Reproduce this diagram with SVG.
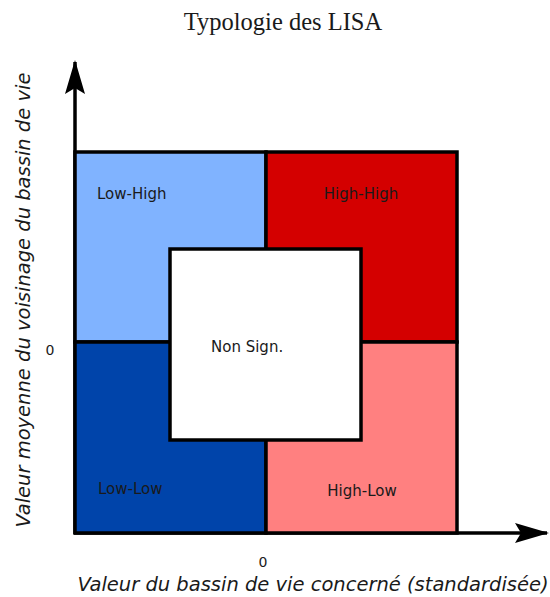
<svg xmlns="http://www.w3.org/2000/svg" width="550" height="597" viewBox="0 0 550 597">
<style>
.q{stroke:#000;stroke-width:3.5;stroke-linejoin:miter}
.lbl{font-family:"DejaVu Sans",sans-serif;font-size:15px;fill:#1a1a1a}
.ax{font-family:"DejaVu Sans",sans-serif;font-size:19.5px;font-style:italic;fill:#1a1a1a}
.zero{font-family:"DejaVu Sans",sans-serif;font-size:14px;fill:#1a1a1a}
.axis{stroke:#000;stroke-width:3.5;fill:none}
</style>
<defs>
<marker id="arr" viewBox="0 0 34 20" refX="32" refY="10" markerWidth="34" markerHeight="20" markerUnits="userSpaceOnUse" orient="auto">
<path d="M0,0 L34,10 L0,20 L6,10 Z" fill="#000"/>
</marker>
</defs>
<rect width="550" height="597" fill="#fff"/>
<text x="283" y="30" text-anchor="middle" font-family="Liberation Serif, serif" font-size="24.5" fill="#1a1a1a">Typologie des LISA</text>
<g id="connectors">
<path class="axis" d="M75,534 L75,62" marker-end="url(#arr)"/>
<path class="axis" d="M74,533 L547,533" marker-end="url(#arr)"/>
</g>
<g id="low-high">
<rect class="q" x="75" y="152" width="191" height="190" fill="#80b3ff"/>
<text class="lbl" x="97" y="199">Low-High</text>
</g>
<g id="high-high">
<rect class="q" x="266" y="152" width="191" height="190" fill="#d40000"/>
<text class="lbl" x="361" y="199" text-anchor="middle">High-High</text>
</g>
<g id="low-low">
<rect class="q" x="75" y="342" width="191" height="191" fill="#0044aa"/>
<text class="lbl" x="98" y="494">Low-Low</text>
</g>
<g id="high-low">
<rect class="q" x="266" y="342" width="191" height="191" fill="#ff8080"/>
<text class="lbl" x="362" y="496" text-anchor="middle">High-Low</text>
</g>
<g id="non-sign">
<rect class="q" x="170" y="249" width="191" height="191" fill="#fff"/>
<text class="lbl" x="211" y="352">Non Sign.</text>
</g>
<text class="zero" x="263" y="567" text-anchor="middle">0</text>
<text class="zero" x="50" y="355" text-anchor="middle">0</text>
<text class="ax" x="313" y="591" text-anchor="middle">Valeur du bassin de vie concerné (standardisée)</text>
<text class="ax" transform="translate(30,300) rotate(-90)" text-anchor="middle">Valeur moyenne du voisinage du bassin de vie</text>
</svg>
